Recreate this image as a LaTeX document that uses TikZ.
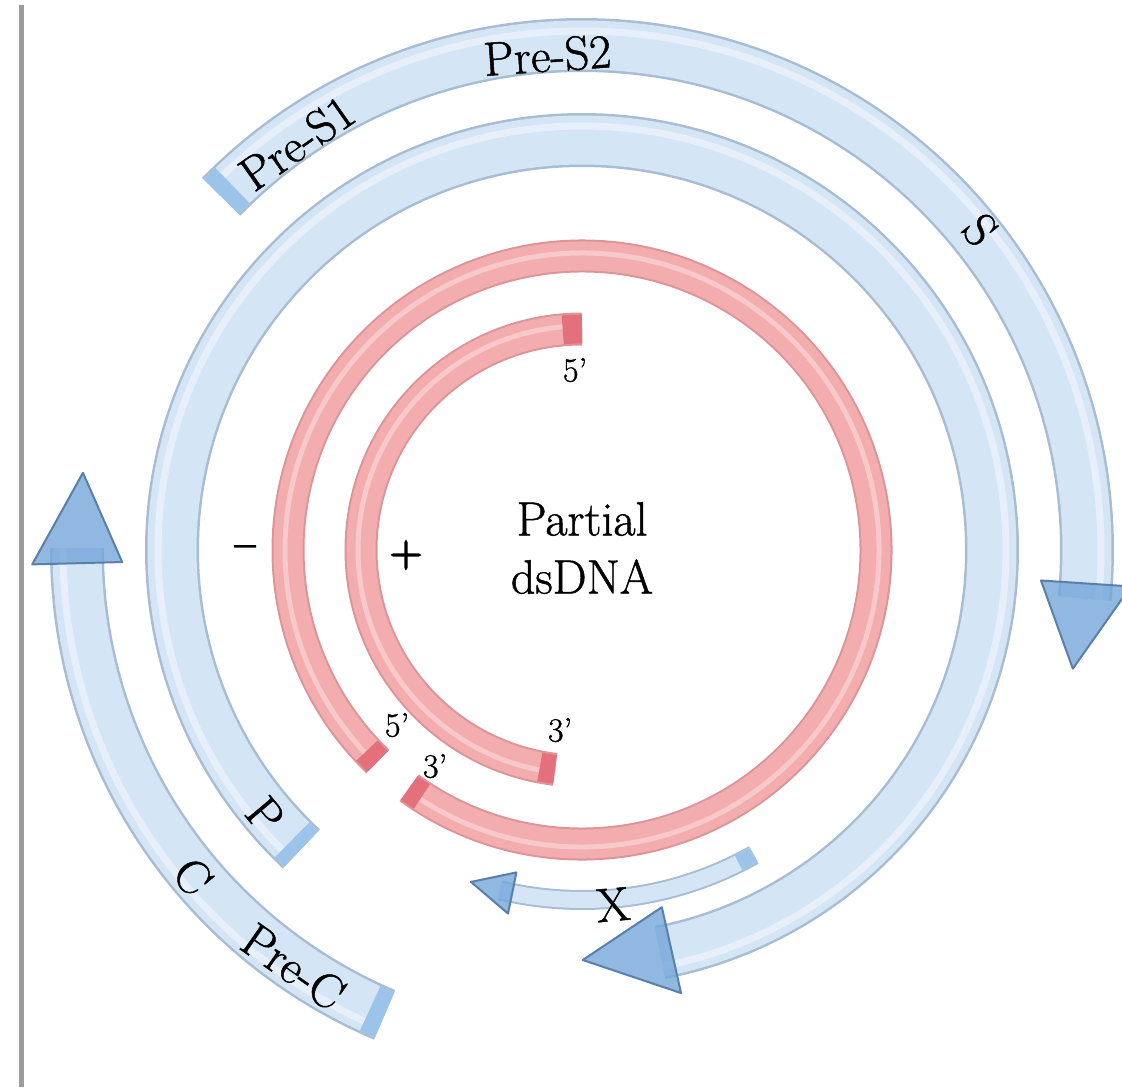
\documentclass[tikz,border=0pt]{standalone}
\usepackage{fontspec}
\usetikzlibrary{positioning,calc}
\newfontfamily\genefont[Ligatures=TeX, FakeBold=1]{Latin Modern Roman}
\newfontfamily\signfont[Ligatures=TeX, FakeBold=4]{Latin Modern Roman}
\definecolor{bandblue}{HTML}{D4E5F6}
\definecolor{bandline}{HTML}{A9BDD2}
\definecolor{capblue}{HTML}{9CC3EA}
\definecolor{headblue}{HTML}{74A6DA}
\definecolor{headline}{HTML}{5A80AA}
\definecolor{strandred}{HTML}{F3ADAF}
\definecolor{strandline}{HTML}{DB9497}
\definecolor{capred}{HTML}{E3707A}
\definecolor{railgray}{HTML}{9C9C9C}

\tikzset{
  blueout/.style={draw=bandline, line width=27pt},
  bluein/.style={draw=bandblue, line width=24.5pt},
  bluecap/.style={draw=capblue, line width=24.5pt},
  bluegleam/.style={draw=white, line width=3.5pt, opacity=.45},
  xout/.style={draw=bandline, line width=10pt},
  xin/.style={draw=bandblue, line width=8pt},
  xcap/.style={draw=capblue, line width=8pt},
  redout/.style={draw=strandline, line width=16.5pt},
  redin/.style={draw=strandred, line width=14.5pt},
  redcap/.style={draw=capred, line width=14.5pt},
  redgleam/.style={draw=white, line width=2.5pt, opacity=.35},
  arrowhead/.style={fill=headblue, fill opacity=.8, draw=headline, line width=1pt, line join=round},
  lbl/.style={font=\genefont\fontsize{24}{29}\selectfont, inner sep=0pt},
  sign/.style={font=\signfont\fontsize{22}{26}\selectfont, inner sep=0pt},
  endlbl/.style={font=\genefont\fontsize{17}{20}\selectfont, inner sep=0pt},
}

\begin{document}
\begin{tikzpicture}[x=0.5pt,y=0.5pt]
\useasboundingbox (-582,-537) rectangle (540,550);

\draw[railgray, line width=2.5pt] (-560,545) -- (-560,-537);

\foreach \r/\a/\b in {410/226.8/-79, 505/135.6/-5.5, 505/247/179.8}{
  \draw[blueout] (\a:\r) arc[start angle=\a, end angle=\b, radius=\r];
  \draw[bluein] (\a:\r) arc[start angle=\a, end angle=\b, radius=\r];
  \draw[bluegleam] (\a:{\r+14}) arc[start angle=\a, end angle=\b, radius={\r+14}];
  \draw[bluecap] (\a:\r) arc[start angle=\a, end angle={\a-1.8}, radius=\r];
}

\draw[xout] (299.4:350) arc[start angle=299.4, end angle=256.5, radius=350];
\draw[xin] (299.4:350) arc[start angle=299.4, end angle=256.5, radius=350];
\draw[xcap] (299.4:350) arc[start angle=299.4, end angle=296.6, radius=350];

\foreach \r/\a/\t/\w in {410/-77.4/-89.9/44, 505/-3.8/-13.6/45, 505/181.5/171.2/45, 350/258.5/251.5/21}
  \filldraw[arrowhead] (\a:{\r-\w}) -- (\t:\r) -- (\a:{\r+\w}) -- cycle;

\draw[redout] (234:294) arc[start angle=234, end angle=586, radius=294];
\draw[redin] (234:294) arc[start angle=234, end angle=586, radius=294];
\draw[redgleam] (234:297) arc[start angle=234, end angle=586, radius=297];
\draw[redcap] (234:294) arc[start angle=234, end angle=237, radius=294];
\draw[redcap] (586:294) arc[start angle=586, end angle=583, radius=294];

\draw[redout] (90:221) arc[start angle=90, end angle=263, radius=221];
\draw[redin] (90:221) arc[start angle=90, end angle=263, radius=221];
\draw[redgleam] (90:224) arc[start angle=90, end angle=263, radius=224];
\draw[redcap] (90:221) arc[start angle=90, end angle=95, radius=221];
\draw[redcap] (263:221) arc[start angle=263, end angle=259, radius=221];

\node[lbl, rotate=4] (pretwo) at (94:496) {Pre-S2};
\node[lbl, rotate=35] (preone) at (125:497) {Pre-S1};
\node[lbl, rotate=-51] (sgene) at (38.8:511) {S};
\node[lbl, rotate=-50] (pgene) at (219.9:413) {P};
\node[lbl, rotate=-50] (cgene) at (220:508) {C};
\node[lbl, rotate=-35] (precore) at (235.3:507) {Pre-C};
\node[lbl, rotate=5] (xgene) at (275:356) {X};
\node[sign] (minus) at (-337,-2) {--};
\node[sign] (plus) at (-176,-5) {+};
\node[lbl, align=center] (dsdna) at (0,2) {Partial\\dsDNA};
\node[endlbl] (plusfive) at (-7,180) {5'};
\node[endlbl] (minusfive) at (-185,-175) {5'};
\node[endlbl] (plusthree) at (-22,-180) {3'};
\node[endlbl] (minusthree) at (-147,-216) {3'};
\end{tikzpicture}
\end{document}
